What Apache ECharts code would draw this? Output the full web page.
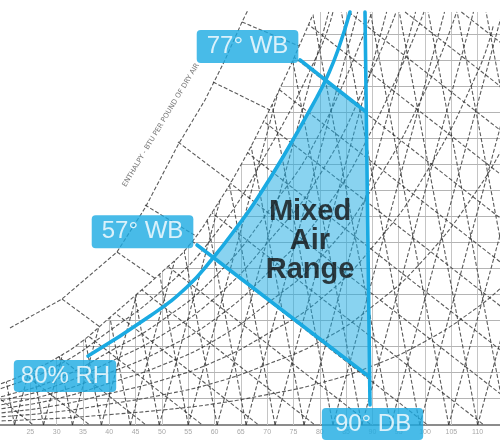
<!DOCTYPE html>
<html><head><meta charset="utf-8">
<script src="https://cdn.jsdelivr.net/npm/echarts@6/dist/echarts.min.js"></script>
<style>html,body{margin:0;padding:0;background:#fff}#c{width:500px;height:442px}</style>
</head><body><div id="c"></div>
<script>
// ---- data (x = dry bulb °F, y = humidity ratio, gr/lb) ----
const dryBulbTicks = [25,30,35,40,45,50,55,60,65,70,75,80,85,90,95,100,105,110];
const humidityLines = [13.5,26.5,39.5,52.5,65.5,78.5,91.5,104.5,117.5,130.5,143.5,156.5,169.5,182.5,195.5];
const chartTopW = 206.5;
const chartLeftDB = 15;
const chartRightDB = 115;
// wet-bulb family: [DB at chart top, DB at W=0]
const wetBulbLines = [[-75,25.6],[-64.3,36.3],[-53.6,47],[-42.9,57.7],[-32.2,68.4],[-21.5,79.1],[-10.8,89.8],[-0.1,100.5],[10.6,111.2],[21.3,121.9],[32,132.6],[42.7,143.3],[53.4,154],[64.1,164.7],[74.8,175.4],[85.5,186.1],[96.2,196.8],[106.9,207.5]];
// steep families: [DB at W=0, DB at chart top]
const steepRightLines = [[0,21.2],[5.5,26.7],[11,32.2],[16.5,37.7],[22,43.2],[27.5,48.7],[33,54.2],[38.5,59.7],[44,65.2],[49.5,70.7],[55,76.2],[60.5,81.7],[66,87.2],[71.5,92.7],[77,98.2],[82.5,103.7],[88,109.2],[93.5,114.7],[99,120.2],[104.5,125.7],[110,131.2]];
const steepLeftLines = [[22,7.1],[27.5,12.6],[33,18.1],[38.5,23.6],[44,29.1],[49.5,34.6],[55,40.1],[60.5,45.6],[66,51.1],[71.5,56.6],[77,62.1],[82.5,67.6],[88,73.1],[93.5,78.6],[99,84.1],[104.5,89.6],[110,95.1],[115.5,100.6],[121,106.1],[126.5,111.6]];
const rh10 = [[15,1.7],[20,2.1],[30,3.3],[40,5.2],[50,7.5],[60,10.6],[70,15.2],[80,20.9],[90,29.6],[100,41.8],[110,58.9],[115,70]];
const rh20 = [[15,3.3],[20,4.2],[30,6.6],[40,10.5],[50,15],[60,21.1],[70,30.3],[80,41.7],[90,59.3],[100,83.5],[110,117.8],[115,140]];
const rh30 = [[15,5],[20,6.2],[30,9.8],[40,15.7],[50,22.4],[60,31.7],[70,45.5],[80,62.6],[90,88.9],[100,125.3],[110,176.6],[113,200]];
const rh40 = [[15,6.6],[20,8.3],[30,13.1],[40,20.9],[50,29.9],[60,42.3],[70,60.7],[80,83.4],[90,118.5],[100,167],[106,206.5]];
const rh50 = [[15,8.3],[20,10.4],[30,16.4],[40,26.1],[50,37.4],[60,52.8],[70,75.8],[80,104.3],[90,148.1],[99.8,206.5]];
const rh60 = [[15,9.9],[20,12.5],[30,19.7],[40,31.4],[50,44.9],[60,63.4],[70,91],[80,125.1],[90,177.8],[94.5,206.5]];
const rh70 = [[15,11.6],[20,14.5],[30,22.9],[40,36.6],[50,52.3],[60,73.9],[70,106.1],[80,146],[89.9,206.5]];
const rh90 = [[15,14.9],[20,18.7],[30,29.5],[40,47],[50,67.3],[60,95.1],[70,136.5],[80,187.7],[82.5,206.5]];
const saturationCurve = [[14,16.2],[20,21.2],[25,26.8],[30,33.5],[35,42.2],[40,53.5],[45,64.9],[50,76.5],[55,89.3],[60,108.2],[65,130],[70,155.3],[73,171.5],[76,189],[78.5,204],[79.2,210]];
const enthalpyScale = [[21.14,48.5],[31.02,63],[41.47,86.5],[46.79,108.5],[53.06,140],[58.19,162.5],[61.99,182.5],[65.22,201.5],[66.36,207.5]];
const enthalpyLines = [[[31.02,63],[38.24,49]],[[41.47,86.5],[48.88,73]],[[46.79,110],[56.48,94.5]],[[53.06,141.5],[63.13,121.5]],[[59.71,171.5],[70.54,157.5]],[[65.22,201.5],[76.05,189.5]]];
const rh80Curve = [[35.96,34.5],[47.74,54.5],[54.77,69],[59.71,83.5],[64.84,101],[67.69,111.5],[73.01,134],[79.47,164],[81.37,174],[83.46,187.5],[85.74,206.5]];
const db90Line = [[88.59,206.5],[89.54,10]];
const wb57Line = [[56.67,90],[89.45,24]];
const wb77Line = [[76.24,182.5],[88.83,156.5]];
const mixedAirRegion = [[59.71,83.5],[64.84,101],[67.69,111.5],[73.01,134],[79.47,164],[80.8,173],[88.83,156.5],[89.45,24]];
const callouts = [
  {name:'77° WB', value:[66.27,189.25], pad:[5,10,4,10]},
  {name:'57° WB', value:[46.32,96.6], pad:[5,10,4,10]},
  {name:'80% RH', value:[31.59,24.5], pad:[4,6,4,7]},
  {name:'90° DB', value:[90.02,0.5], pad:[4,12,4,13]}
];
const regionTitle = {name:'Mixed\nAir\nRange', value:[78.14,92]};
const scaleTitle = {name:'ENTHALPY - BTU PER POUND OF DRY AIR', value:[49.83,150]};

// ---- build ----
const BLUE = '#1aaae2';
const DASH = {color:'rgba(45,45,45,0.78)', width:1.1, type:[4,2], opacity:1};
const seg = (a,b) => ({coords:[a,b]});
const linesSeries = (data, style, z) => ({type:'lines', coordinateSystem:'cartesian2d', polyline:false, silent:true, clip:true, z, data, lineStyle:Object.assign({opacity:1}, style)});
const curve = (data, style, z, smooth) => ({type:'line', data, smooth: smooth, symbol:'none', silent:true, z, lineStyle:style, clip:true});
const textSeries = (data, label, z) => ({type:'scatter', z, silent:true, symbol:'circle', symbolSize:1,
  itemStyle:{color:'rgba(0,0,0,0)'}, data,
  label:Object.assign({show:true, position:'inside', formatter:'{b}', textBorderWidth:0, textShadowBlur:0}, label),
  labelLayout:{hideOverlap:false}});

const series = [
  linesSeries(dryBulbTicks.map(d=>seg([d,0],[d,chartTopW])), {color:'#c4c4c4', width:1, type:'solid'}, 1),
  linesSeries(humidityLines.map(w=>seg([chartLeftDB,w],[chartRightDB,w])), {color:'#b4b4b4', width:1, type:'solid'}, 1),
  linesSeries(wetBulbLines.map(p=>seg([p[0],chartTopW],[p[1],0])), DASH, 2),
  linesSeries(steepRightLines.map(p=>seg([p[0],0],[p[1],chartTopW])), DASH, 2),
  linesSeries(steepLeftLines.map(p=>seg([p[0],0],[p[1],chartTopW])), DASH, 2),
];
[rh10,rh20,rh30,rh40,rh50,rh60,rh70,rh90].forEach(c=>series.push(curve(c, DASH, 2, true)));
// white area beyond saturation
series.push({type:'line', data:saturationCurve, smooth:true, symbol:'none', silent:true, z:3,
  lineStyle:{width:0, opacity:0}, areaStyle:{color:'#ffffff', opacity:1, origin:'end'}});
series.push(curve(saturationCurve.filter(p=>p[1]<=chartTopW), DASH, 4, true));
series.push(curve(enthalpyScale, DASH, 4, false));
series.push(linesSeries(enthalpyLines.map(p=>seg(p[0],p[1])), DASH, 4));
// mixed air range fill
series.push({type:'custom', z:5, silent:true, data:[mixedAirRegion[0]],
  renderItem:(params, api)=>({type:'polygon', shape:{points:mixedAirRegion.map(p=>api.coord(p))},
    style:{fill:'rgba(28,171,226,0.52)'}})});
[rh80Curve, db90Line, wb57Line, wb77Line].forEach(c=>series.push(curve(c, {color:BLUE, width:3.6, cap:'round'}, 6, c===rh80Curve)));
series.push(textSeries(callouts.map(c=>({name:c.name, value:c.value, label:{padding:c.pad}})),
  {color:'#fff', fontSize:24, lineHeight:24, fontFamily:'Liberation Sans, Arial, sans-serif', backgroundColor:BLUE, borderRadius:4}, 8));
series.push(textSeries([regionTitle],
  {color:'#111111', fontSize:29, lineHeight:29, fontWeight:'bold', align:'center', fontFamily:'Liberation Sans, Arial, sans-serif'}, 8));
series.push(textSeries([scaleTitle],
  {color:'#555', fontSize:7, rotate:59, fontFamily:'DejaVu Sans, sans-serif'}, 4));

const chart = echarts.init(document.getElementById('c'), null, {renderer:'canvas'});
chart.setOption({
  animation:false,
  backgroundColor:'#fff',
  grid:{left:0, top:5, width:500, height:420},
  xAxis:{type:'value', min:19.24, max:114.24,
    axisLine:{show:true, lineStyle:{color:'#8c8c8c', width:2}},
    axisTick:{show:false}, splitLine:{show:false},
    axisLabel:{show:true, fontSize:7, color:'#a8a8a8', margin:4, customValues:dryBulbTicks,
      formatter:v=>String(v)}},
  yAxis:{type:'value', min:0, max:210, show:false},
  series
});
</script></body></html>
